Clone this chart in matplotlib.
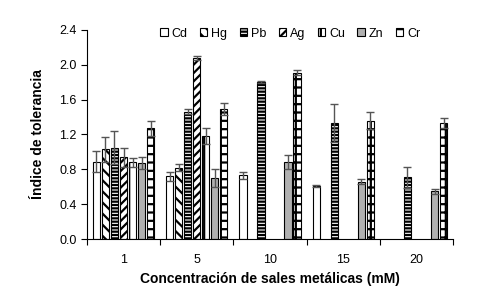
import numpy as np
import matplotlib
matplotlib.use('Agg')
import matplotlib.pyplot as plt

plt.rcParams['font.family'] = ['Liberation Sans', 'DejaVu Sans']
plt.rcParams['hatch.linewidth'] = 1.6

# Datos
concentraciones = ['1', '5', '10', '15', '20']
metales = ['Cd', 'Hg', 'Pb', 'Ag', 'Cu', 'Zn', 'Cr']
nan = np.nan
valores = {
    'Cd': [0.89, 0.72, 0.73, 0.61, nan],
    'Hg': [1.03, 0.82, nan, nan, nan],
    'Pb': [1.05, 1.46, 1.80, 1.33, 0.71],
    'Ag': [0.94, 2.08, nan, nan, nan],
    'Cu': [0.88, 1.18, nan, nan, nan],
    'Zn': [0.87, 0.70, 0.88, 0.66, 0.55],
    'Cr': [1.27, 1.49, 1.91, 1.36, 1.33],
}
errores = {
    'Cd': [0.12, 0.05, 0.04, 0.01, nan],
    'Hg': [0.14, 0.04, nan, nan, nan],
    'Pb': [0.19, 0.03, 0.01, 0.22, 0.12],
    'Ag': [0.11, 0.02, nan, nan, nan],
    'Cu': [0.05, 0.09, nan, nan, nan],
    'Zn': [0.07, 0.10, 0.08, 0.03, 0.03],
    'Cr': [0.09, 0.07, 0.03, 0.10, 0.06],
}

# Estilos
estilos = {
    'Cd': dict(color='white', hatch=''),
    'Hg': dict(color='white', hatch='\\\\\\'),
    'Pb': dict(color='white', hatch='-----'),
    'Ag': dict(color='white', hatch='////'),
    'Cu': dict(color='white', hatch='||'),
    'Zn': dict(color='#b0b0b0', hatch=''),
    'Cr': dict(color='white', hatch='++'),
}

fig = plt.figure(figsize=(4.8, 2.88), dpi=100)
ax = fig.add_axes([0.181, 0.170, 0.763, 0.726])

x = np.arange(len(concentraciones))
slot = 0.123
ancho = slot * 0.8
for i, m in enumerate(metales):
    offs = (i - 3) * slot
    v = np.array(valores[m])
    e = np.array(errores[m])
    ok = ~np.isnan(v)
    ax.bar(x[ok] + offs, v[ok], width=ancho, facecolor=estilos[m]['color'],
           hatch=estilos[m]['hatch'], edgecolor='black', linewidth=0.8, label=m)
    ax.errorbar(x[ok] + offs, v[ok], yerr=e[ok], fmt='none', ecolor='#555555',
                elinewidth=1, capsize=3, capthick=1)

ax.set_xlim(-0.5, len(concentraciones) - 0.5)
ax.set_ylim(0, 2.4)
ax.set_yticks(np.arange(0, 2.41, 0.4))
ax.set_yticklabels(['%.1f' % t for t in np.arange(0, 2.41, 0.4)], fontsize=9)
ax.set_xticks(np.arange(-0.5, len(concentraciones), 1.0))
ax.set_xticklabels([])
ax.set_xticks(x, minor=True)
ax.set_xticklabels(concentraciones, minor=True, fontsize=9)
ax.tick_params(axis='x', which='minor', length=0, pad=11)
ax.tick_params(axis='both', which='major', direction='out', length=4, width=0.8)
for s in ['top', 'right']:
    ax.spines[s].set_visible(False)

ax.set_xlabel('Concentración de sales metálicas (mM)', fontsize=10, fontweight='bold', labelpad=4)
ax.set_ylabel('Índice de tolerancia', fontsize=10, fontweight='bold', labelpad=10)

ax.legend(ncol=7, loc='lower center', bbox_to_anchor=(0.555, 0.93), frameon=False,
          fontsize=9, handlelength=0.6, handleheight=0.6, handletextpad=0.3,
          columnspacing=1.0, borderaxespad=0)

fig.savefig('out.png', dpi=100)
